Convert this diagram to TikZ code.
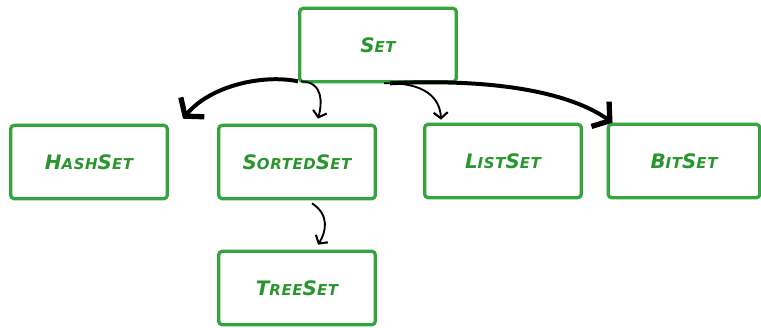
\documentclass[tikz,border=0pt]{standalone}
\usepackage{fontspec}
\setmainfont{DejaVu Sans}
\newfontfamily\handfont[LetterSpace=4]{DejaVu Sans}
\usepackage{tikz}
\usetikzlibrary{arrows.meta}
\definecolor{boxgreen}{RGB}{52,165,62}
\definecolor{textgreen}{RGB}{40,150,45}
\newcommand{\bigcapletter}[1]{{\fontsize{17}{18}\selectfont #1}}
\tikzset{setbox/.style={draw=boxgreen,line width=2.8pt,rounded corners=3pt,%
    minimum width=4.7cm,minimum height=2.2cm,text=textgreen,%
    font=\handfont\fontsize{12.8}{14}\selectfont\bfseries\itshape}}
\tikzset{thinptr/.style={line width=1.6pt,-{Straight Barb[length=5pt,width=12pt,line width=1.8pt]}}}
\tikzset{fatptr/.style={line width=3.4pt,-{Straight Barb[length=10pt,width=26pt,line width=4.5pt]}}}
\begin{document}
\begin{tikzpicture}[x=0.03cm,y=-0.03cm]

	  \useasboundingbox (0,0) rectangle (761,327);

	  % boxes
	  \node [setbox] (set) at (378,45) {\bigcapletter{S}ET};
	  \node [setbox] (hash) at (89,162) {\bigcapletter{H}ASH\bigcapletter{S}ET};
	  \node [setbox] (sorted) at (297,162) {\bigcapletter{S}ORTED\bigcapletter{S}ET};
	  \node [setbox] (list) at (503,161) {\bigcapletter{L}IST\bigcapletter{S}ET};
	  \node [setbox,minimum width=4.55cm] (bit) at (684,161) {\bigcapletter{B}IT\bigcapletter{S}ET};
	  \node [setbox] (tree) at (297,288) {\bigcapletter{T}REE\bigcapletter{S}ET};

	  % arrows from Set
	  \draw [fatptr] ([shift={(0,-2)}]set.south west) .. controls (262,74) and (210,86) .. ([shift={(14,-5)}]hash.north east);
	  \draw [thinptr] ([shift={(3,-2)}]set.south west) .. controls (324,82) and (322,104) .. ([shift={(21,-5)}]sorted.north);
	  \draw [thinptr] ([shift={(6,0)}]set.south) .. controls (425,82) and (440,98) .. ([shift={(18,-3)}]list.north west);
	  \draw [fatptr] ([shift={(12,0)}]set.south) .. controls (500,78) and (572,94) .. ([shift={(6,0)}]bit.north west);

	  % Sorted to Tree
	  \draw [thinptr] ([shift={(15,3)}]sorted.south) .. controls (330,215) and (326,232) .. ([shift={(21,-5)}]tree.north);

\end{tikzpicture}
\end{document}
